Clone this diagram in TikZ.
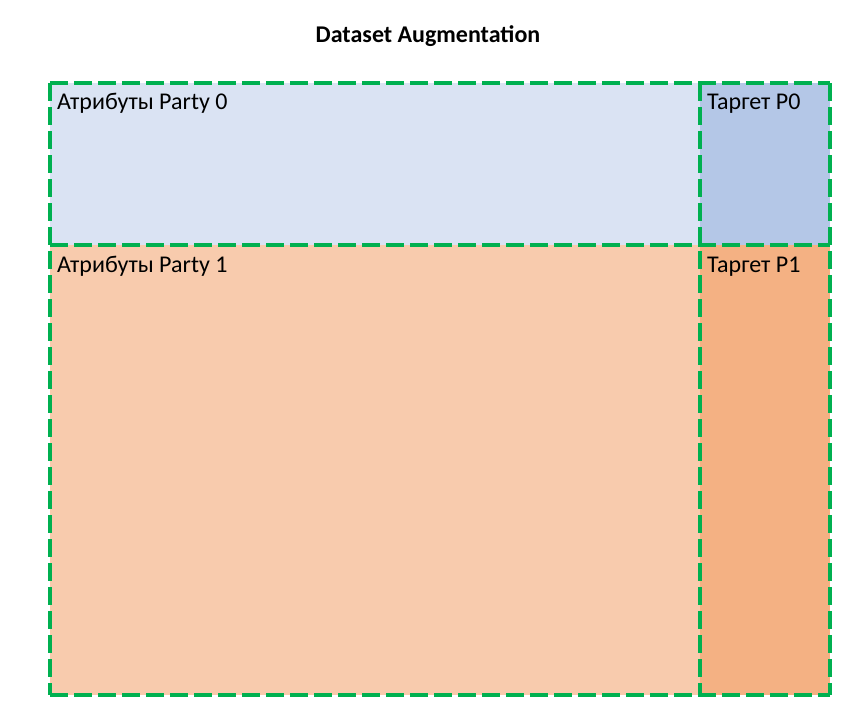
\documentclass[tikz,border=0pt]{standalone}
\usepackage{fontspec}
\setmainfont{Carlito}
\definecolor{attrA}{HTML}{DAE3F3}
\definecolor{targA}{HTML}{B4C7E7}
\definecolor{attrB}{HTML}{F8CBAD}
\definecolor{targB}{HTML}{F4B183}
\definecolor{dgreen}{HTML}{00B050}
\begin{document}
\begin{tikzpicture}[x=1pt,y=-1pt,
  outline/.style={draw=dgreen,line width=4pt,dash pattern=on 18pt off 6pt},
  lbl/.style={anchor=base west,inner sep=0pt,font=\fontsize{24}{28}\selectfont}]
\useasboundingbox (0,0) rectangle (864,718);
\coordinate (tl) at (50,83);
\coordinate (tm) at (700,83);
\coordinate (tr) at (830,83);
\coordinate (ml) at (50,245);
\coordinate (mm) at (700,245);
\coordinate (mr) at (830,245);
\coordinate (bl) at (50,695);
\coordinate (bm) at (700,695);
\coordinate (br) at (830,695);
\fill[attrA] (tl) rectangle (mm);
\fill[targA] (tm) rectangle (mr);
\fill[attrB] (ml) rectangle (bm);
\fill[targB] (mm) rectangle (br);
\draw[outline] (tl) -- (tr);
\draw[outline] (ml) -- (mr);
\draw[outline] (bl) -- (br);
\draw[outline] (tl) -- (bl);
\draw[outline] (tm) -- (bm);
\draw[outline] (tr) -- (br);
\node[anchor=base,inner sep=0pt,font=\bfseries\fontsize{24}{28}\selectfont] (title) at (428,42) {Dataset Augmentation};
\node[lbl] (a0) at (57,109) {Атрибуты Party 0};
\node[lbl] (t0) at (707,109) {Таргет P0};
\node[lbl] (a1) at (57,272) {Атрибуты Party 1};
\node[lbl] (t1) at (707,272) {Таргет P1};
\end{tikzpicture}
\end{document}
